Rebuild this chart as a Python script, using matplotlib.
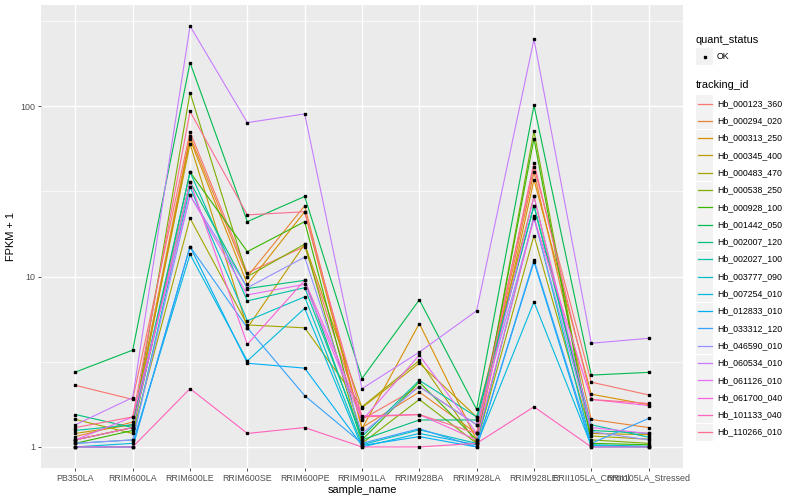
import numpy as np
import matplotlib
matplotlib.use("Agg")
import matplotlib.pyplot as plt
from matplotlib.patches import Rectangle
from matplotlib.lines import Line2D

plt.rcParams['font.family'] = ['Liberation Sans', 'DejaVu Sans']

# samples on the x axis
samples = ["PB350LA", "RRIM600LA", "RRIM600LE", "RRIM600SE", "RRIM600PE",
           "RRIM901LA", "RRIM928BA", "RRIM928LA", "RRIM928LE",
           "RRII105LA_Control", "RRII105LA_Stressed"]

tracking_ids = ["Hb_000123_360", "Hb_000294_020", "Hb_000313_250", "Hb_000345_400",
                "Hb_000483_470", "Hb_000538_250", "Hb_000928_100", "Hb_001442_050",
                "Hb_002007_120", "Hb_002027_100", "Hb_003777_090", "Hb_007254_010",
                "Hb_012833_010", "Hb_033312_120", "Hb_046590_010", "Hb_060534_010",
                "Hb_061126_010", "Hb_061700_040", "Hb_101133_040", "Hb_110266_010"]

# ggplot default hue palette for 20 levels
colors = ["#F8766D", "#EA8331", "#D89000", "#C09B00", "#A3A500", "#7CAE00",
          "#39B600", "#00BB4E", "#00BF7D", "#00C1A3", "#00BFC4", "#00BAE0",
          "#00B0F6", "#35A2FF", "#9590FF", "#C77CFF", "#E76BF3", "#FA62DB",
          "#FF62BC", "#FF6C91"]

# FPKM + 1 per tracking id (rows) and sample (columns)
fpkm = [
    [2.30, 1.90, 70.5, 10.5, 15.0, 1.45, 2.26, 1.35, 44.0, 2.40, 2.02],
    [1.15, 1.40, 66.5, 10.0, 26.0, 1.30, 2.10, 1.20, 41.0, 1.45, 1.30],
    [1.10, 1.30, 64.0, 9.00, 24.0, 1.28, 5.30, 1.10, 37.0, 2.04, 1.77],
    [1.20, 1.35, 60.0, 5.00, 15.5, 1.70, 3.10, 1.50, 29.5, 1.20, 1.18],
    [1.45, 1.20, 22.0, 5.20, 5.00, 1.72, 3.22, 1.05, 17.4, 1.16, 1.11],
    [1.10, 1.30, 120., 10.0, 15.5, 1.05, 1.90, 1.05, 71.5, 1.10, 1.05],
    [1.05, 1.25, 41.0, 14.0, 21.0, 1.10, 2.40, 1.10, 64.5, 1.05, 1.03],
    [2.75, 3.70, 180., 21.0, 29.5, 2.52, 7.30, 1.66, 101., 2.64, 2.74],
    [1.55, 1.30, 36.0, 8.50, 9.50, 1.10, 1.44, 1.44, 26.0, 1.25, 1.20],
    [1.25, 1.35, 41.0, 7.20, 8.60, 1.15, 2.46, 1.50, 26.0, 1.35, 1.14],
    [1.05, 1.10, 33.5, 5.50, 7.60, 1.03, 1.26, 1.05, 22.6, 1.03, 1.01],
    [1.00, 1.05, 13.5, 3.20, 6.50, 1.00, 1.20, 1.03, 7.10, 1.02, 1.00],
    [1.00, 1.00, 15.0, 3.10, 2.90, 1.02, 1.15, 1.00, 12.2, 1.00, 1.00],
    [1.00, 1.00, 15.0, 5.00, 2.00, 1.05, 1.28, 1.00, 12.5, 1.05, 1.47],
    [1.05, 1.10, 30.0, 8.60, 13.0, 1.20, 2.26, 1.35, 22.0, 1.23, 1.10],
    [1.35, 1.95, 295., 80.0, 90.0, 2.20, 3.60, 6.30, 247., 4.06, 4.34],
    [1.10, 1.50, 30.0, 7.80, 9.00, 1.43, 3.46, 1.20, 29.5, 1.30, 1.20],
    [1.10, 1.30, 36.0, 4.00, 9.50, 1.52, 1.55, 1.10, 22.0, 1.90, 1.75],
    [1.00, 1.00, 2.20, 1.20, 1.30, 1.00, 1.00, 1.05, 1.72, 1.00, 1.00],
    [1.30, 1.50, 93.0, 23.0, 24.0, 1.50, 1.55, 1.20, 46.6, 1.90, 1.80],
]

W, H = 800, 500
fig = plt.figure(figsize=(8, 5), dpi=100)
ax = fig.add_axes([41 / W, 32 / H, 642 / W, 463 / H])
ax.set_facecolor("#EBEBEB")

x = np.arange(len(samples))
for vals, col in zip(fpkm, colors):
    ax.plot(x, vals, color=col, lw=0.8, zorder=2)
for vals in fpkm:
    ax.plot(x, vals, ls="none", marker="s", ms=2.0, color="black", zorder=3)

ax.set_yscale("log")
lo, hi = 0.0, np.log10(295)
pad = 0.05 * (hi - lo)
ax.set_ylim(10 ** (lo - pad), 10 ** (hi + pad))
ax.set_xlim(-0.6, len(samples) - 0.4)

ax.set_yticks([1, 10, 100])
ax.set_yticklabels(["1", "10", "100"])
ax.set_yticks([10 ** 0.5, 10 ** 1.5, 10 ** 2.5], minor=True)
ax.yaxis.set_minor_formatter(plt.NullFormatter())
ax.set_xticks(x)
ax.set_xticklabels(samples)

ax.grid(True, which="major", color="white", lw=1.0, zorder=0)
ax.grid(True, which="minor", axis="y", color="white", lw=0.5, zorder=0)
ax.set_axisbelow(True)
for s in ax.spines.values():
    s.set_visible(False)
ax.tick_params(which="major", length=2.5, width=0.6, color="#333333",
               labelcolor="#4D4D4D", labelsize=6.4, pad=1.5)
ax.tick_params(which="minor", length=0)

ax.set_xlabel("sample_name", fontsize=7.9, labelpad=2)
ax.set_ylabel("FPKM + 1", fontsize=7.9, labelpad=3)

# legends drawn by hand in pixel coordinates
def fx(px):
    return px / W

def fy(py):
    return 1 - py / H

fig.text(fx(696), fy(40), "quant_status", fontsize=7.9, va="center")
fig.patches.append(Rectangle((fx(696), fy(65)), 17 / W, 17 / H, transform=fig.transFigure,
                             facecolor="#F2F2F2", edgecolor="none"))
fig.lines.append(Line2D([fx(704.5)], [fy(56.5)], marker="s", ms=2.0, color="black",
                        transform=fig.transFigure))
fig.text(fx(717), fy(56.5), "OK", fontsize=6.3, va="center")

fig.text(fx(696), fy(85), "tracking_id", fontsize=7.9, va="center")
step = 17.3
for i, (tid, col) in enumerate(zip(tracking_ids, colors)):
    cy = 103.5 + i * step
    fig.patches.append(Rectangle((fx(696), fy(cy + 8.5)), 17 / W, 17 / H,
                                 transform=fig.transFigure, facecolor="#F2F2F2",
                                 edgecolor="none"))
    fig.lines.append(Line2D([fx(697.5), fx(711.5)], [fy(cy), fy(cy)], color=col, lw=0.9,
                            transform=fig.transFigure))
    fig.text(fx(717), fy(cy), tid, fontsize=6.3, va="center")

fig.savefig("out.png", dpi=100)
